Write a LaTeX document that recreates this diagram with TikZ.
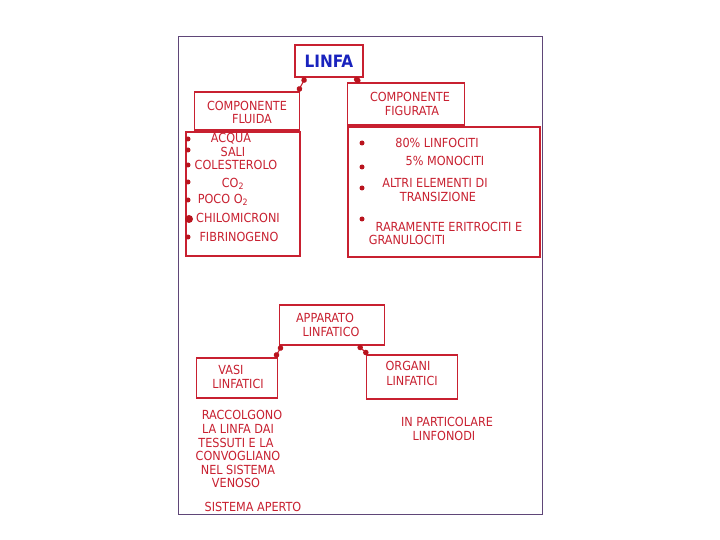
\documentclass[tikz,border=0pt]{standalone}
\usepackage{fontspec}
\setmainfont{DejaVu Sans Condensed}
\usetikzlibrary{arrows.meta}
\definecolor{hred}{RGB}{200,32,48}
\definecolor{dred}{RGB}{185,20,30}
\definecolor{hblue}{RGB}{25,35,190}
\definecolor{frame}{RGB}{95,70,120}
\tikzset{
  hbox/.style={draw=hred, line width=1.3pt, inner sep=0pt},
  conn/.style={draw=hred, line width=1.1pt, {Circle[length=5.5pt,color=dred]}-{Circle[length=5.5pt,color=dred]}},
  txt/.style={text=hred, font=\fontsize{12.5}{14}\selectfont, inner sep=0pt, anchor=center},
  bul/.style={circle, fill=dred, inner sep=0pt, minimum size=5pt}
}
\begin{document}
\begin{tikzpicture}[x=1pt,y=-1pt]
\useasboundingbox (0,0) rectangle (720,540);
\fill[white] (0,0) rectangle (720,540);
\draw[frame, line width=1pt] (178,37) rectangle (542,514);

% top boxes
\node[hbox, minimum width=68pt, minimum height=32pt] (linfa) at (329,61) {};
\node[text=hblue, font=\fontsize{17}{19}\selectfont\bfseries, inner sep=0pt] (linfat) at (329,61) {LINFA};
\node[hbox, minimum width=105pt, minimum height=38pt] (fluida) at (247,111) {};
\node[hbox, minimum width=117pt, minimum height=42pt] (figurata) at (406,104) {};
\draw[hred, line width=1.3pt] (186,132) rectangle (300,256);
\draw[hred, line width=1.3pt] (348,127) rectangle (540,257);

\draw[conn] ([xshift=11pt]linfa.south west) -- ([xshift=-2pt]fluida.north east);
\draw[conn] ([xshift=-9pt]linfa.south east) -- ([xshift=13pt]figurata.north west);

\node[txt] (f1) at (247,105.5) {COMPONENTE};
\node[txt] (f2) at (252,119.5) {FLUIDA};
\node[txt] (g1) at (410,96.5) {COMPONENTE};
\node[txt] (g2) at (412,110.5) {FIGURATA};

% left list
\foreach \yy in {139,150,165,182,200,237} \node[bul] at (188,\yy) {};
\node[bul, minimum size=8pt] at (189,219) {};
\node[txt] (l1) at (231,139) {ACQUA};
\node[txt] (l2) at (233,152) {SALI};
\node[txt] (l3) at (236,165) {COLESTEROLO};
\node[txt] (l4) at (233,184) {CO\textsubscript{2}};
\node[txt] (l5) at (223,200) {POCO O\textsubscript{2}};
\node[txt] (l6) at (238,218) {CHILOMICRONI};
\node[txt] (l7) at (239,237) {FIBRINOGENO};

% right list
\foreach \yy in {143,167,188,219} \node[bul] at (362,\yy) {};
\node[txt] (r1) at (437,143) {80\% LINFOCITI};
\node[txt] (r2) at (445,161) {5\% MONOCITI};
\node[txt] (r3) at (435,183) {ALTRI ELEMENTI DI};
\node[txt] (r4) at (438,197) {TRANSIZIONE};
\node[txt] (r5) at (449,227) {RARAMENTE ERITROCITI E};
\node[txt] (r6) at (407,240) {GRANULOCITI};

% bottom diagram
\node[hbox, minimum width=105pt, minimum height=40pt] (app) at (332,325) {};
\node[hbox, minimum width=81pt, minimum height=40pt] (vasi) at (237,378) {};
\node[hbox, minimum width=91pt, minimum height=44pt] (organi) at (412,377) {};
\draw[conn] ([xshift=3pt]app.south west) -- ([xshift=-3pt]vasi.north east);
\draw[conn] ([xshift=-27pt]app.south east) -- ([xshift=2pt]organi.north west);

\node[txt] (a1) at (325,318) {APPARATO};
\node[txt] (a2) at (331,332) {LINFATICO};
\node[txt] (v1) at (231,370) {VASI};
\node[txt] (v2) at (238,384) {LINFATICI};
\node[txt] (o1) at (408,366) {ORGANI};
\node[txt] (o2) at (412,381) {LINFATICI};

\node[txt] (d1) at (242,415) {RACCOLGONO};
\node[txt] (d2) at (238,429) {LA LINFA DAI};
\node[txt] (d3) at (236,443) {TESSUTI E LA};
\node[txt] (d4) at (238,456) {CONVOGLIANO};
\node[txt] (d5) at (238,470) {NEL SISTEMA};
\node[txt] (d6) at (236,483) {VENOSO};
\node[txt] (d7) at (253,507) {SISTEMA APERTO};
\node[txt] (p1) at (447,422) {IN PARTICOLARE};
\node[txt] (p2) at (444,436) {LINFONODI};
\end{tikzpicture}
\end{document}
